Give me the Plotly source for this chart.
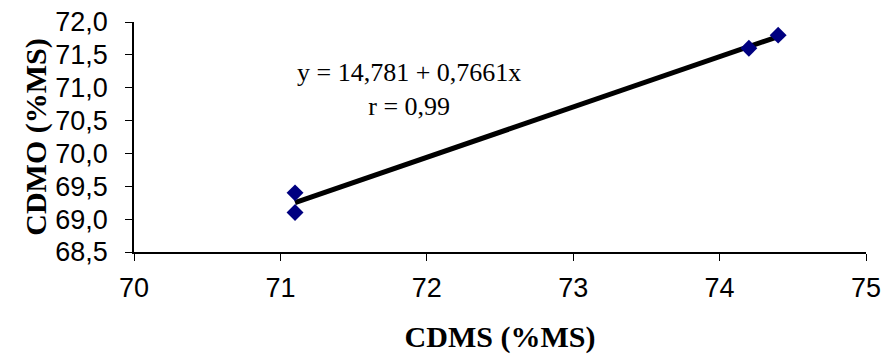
import plotly.graph_objects as go

# Measured digestibility values (% of dry matter)
cdms = [71.1, 71.1, 74.2, 74.4]
cdmo = [69.4, 69.1, 71.6, 71.8]

# Linear regression: CDMO = intercept + slope * CDMS
intercept = 14.781
slope = 0.7661
r_value = 0.99

x_fit = [min(cdms), max(cdms)]
y_fit = [intercept + slope * x for x in x_fit]

serif = "Liberation Serif, Times New Roman, serif"

fig = go.Figure()
fig.add_trace(go.Scatter(
    x=x_fit, y=y_fit, mode="lines",
    line=dict(color="black", width=5),
    showlegend=False, hoverinfo="skip",
))
fig.add_trace(go.Scatter(
    x=cdms, y=cdmo, mode="markers",
    marker=dict(symbol="diamond", color="#000080", size=13),
    showlegend=False,
))

eq_text = f"y = {intercept:.3f} + {slope:.4f}x<br>r = {r_value:.2f}".replace(".", ",")
fig.add_annotation(
    x=71.88, y=70.98, xref="x", yref="y",
    text=eq_text,
    showarrow=False,
    font=dict(family=serif, size=26, color="black"),
    align="center",
)

fig.update_layout(
    width=883, height=354,
    margin=dict(l=134, r=17, t=22, b=102),
    paper_bgcolor="white", plot_bgcolor="white",
    separators=",.",
    font=dict(family="Liberation Sans, Arial, sans-serif", size=27, color="black"),
)
fig.update_xaxes(
    range=[70, 75], dtick=1, tickformat="d", automargin=False,
    showgrid=False, zeroline=False,
    showline=True, linecolor="black", linewidth=1.5,
    ticks="outside", ticklen=7, tickcolor="black",
    ticklabelstandoff=4,
    title=dict(text="<b>CDMS (%MS)</b>", standoff=24,
               font=dict(family=serif, size=30)),
)
fig.update_yaxes(
    range=[68.5, 72.0], dtick=0.5, tickformat=".1f", automargin=False,
    showgrid=False, zeroline=False,
    showline=True, linecolor="black", linewidth=1.5,
    ticks="outside", ticklen=7, tickcolor="black",
    ticklabelstandoff=12,
    title=dict(text="<b>CDMO (%MS)</b>", standoff=0,
               font=dict(family=serif, size=30)),
)

fig.write_html("out.html")
